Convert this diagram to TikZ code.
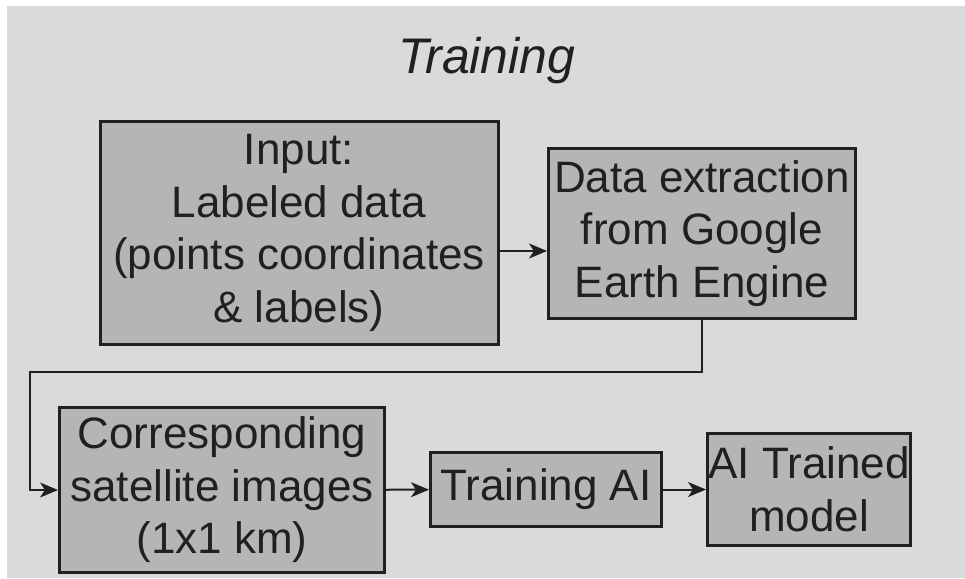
\documentclass[tikz,border=0pt]{standalone}
\usepackage{fontspec}
\setmainfont{Liberation Sans}
\usepackage{tikz}
\usetikzlibrary{arrows.meta,positioning}

\definecolor{bggray}{RGB}{217,218,220}
\definecolor{boxgray}{RGB}{180,181,183}
\definecolor{inkline}{RGB}{35,31,32}

\tikzset{
  blockbox/.style={draw=inkline,fill=boxgray,line width=3pt,align=center,inner sep=0pt,
    font=\fontsize{44}{52.5}\selectfont,text=inkline},
  flowline/.style={draw=inkline,line width=2pt,-{Stealth[length=18pt,width=15pt,inset=5pt]}}
}

\begin{document}
\begin{tikzpicture}[x=1pt,y=-1pt]
      \useasboundingbox (0,0) rectangle (965,578);
      \fill[bggray] (7,6) rectangle (965,578);

      \node[anchor=base,text=inkline,font=\fontsize{50}{60}\selectfont\itshape] (title) at (487,73) {Training};

      \node[blockbox,minimum width=398pt,minimum height=223pt] (input) at (299,233) {Input:\\Labeled data\\(points coordinates\\\& labels)};
      \node[blockbox,minimum width=307pt,minimum height=170pt] (extract) at (702,233.5) {Data extraction\\from Google\\Earth Engine};

      \node[blockbox,minimum width=325pt,minimum height=165pt] (sat) at (222,490) {Corresponding\\satellite images\\(1x1 km)};
      \node[blockbox,minimum width=231pt,minimum height=74pt] (train) at (546,489.5) {Training AI};
      \node[blockbox,minimum width=203pt,minimum height=112pt] (model) at (809,489.5) {AI Trained\\model};

      % input -> extraction, a bit below the middle
      \draw[flowline] ([yshift=-18pt]input.east) -- ([yshift=-18pt]input.east -| extract.west);

      \coordinate (turn) at (30,372);
      \draw[flowline] (extract.south) |- (turn) |- (sat.west);

      \draw[flowline] (sat) -- (train);
      \draw[flowline] (train) -- (model);

\end{tikzpicture}
\end{document}
